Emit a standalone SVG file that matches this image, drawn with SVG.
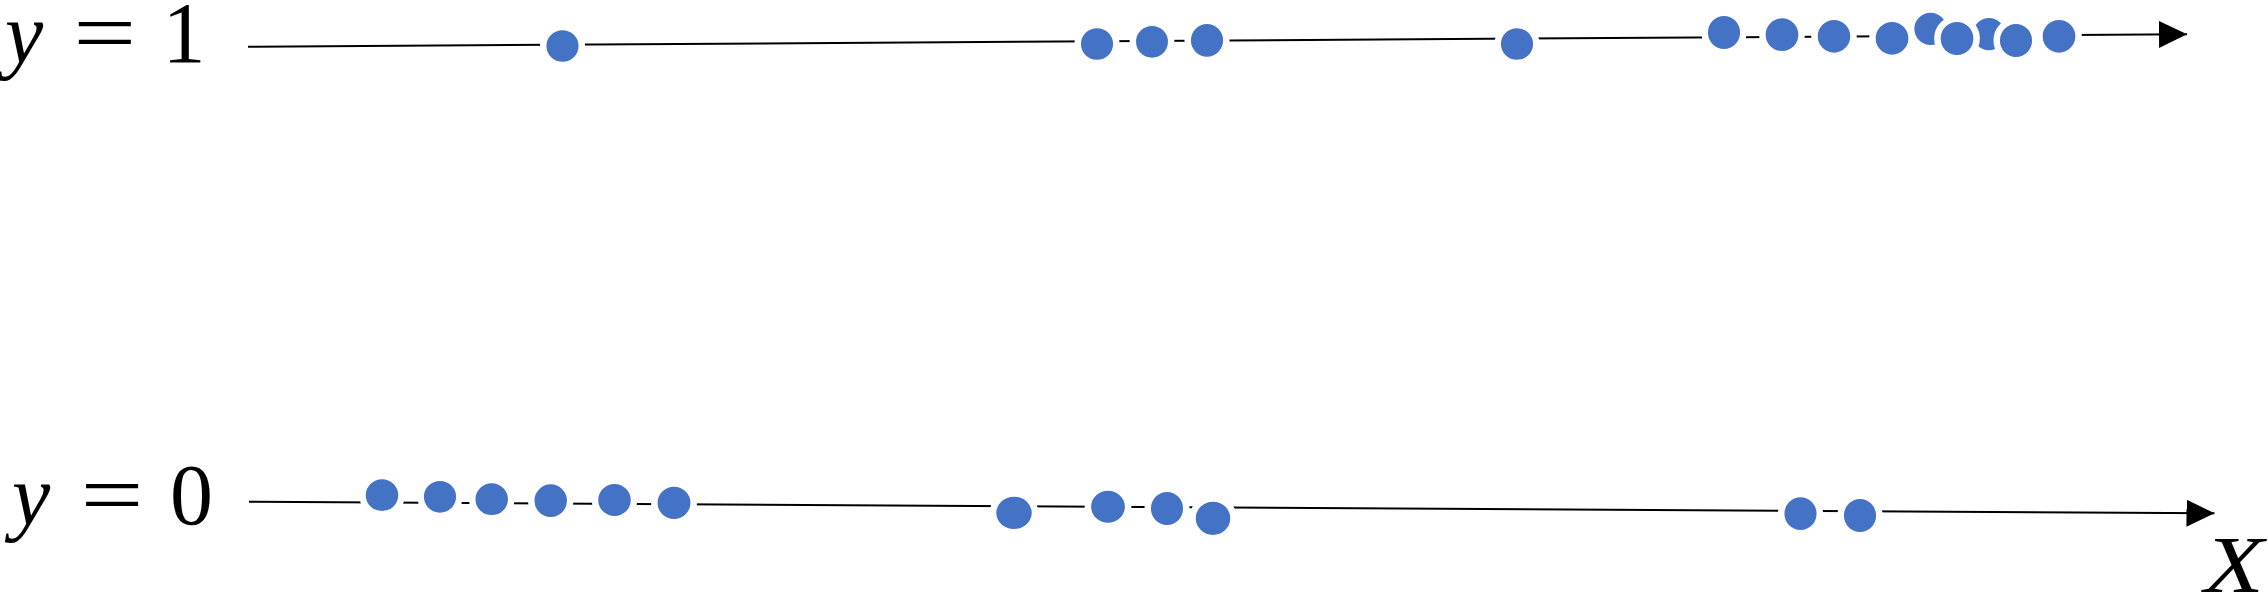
<svg xmlns="http://www.w3.org/2000/svg" width="2268" height="595" viewBox="0 0 2268 595">
  <defs>
    <style>
      .axis { stroke: #000; stroke-width: 2; fill: none; }
      .pt { fill: #4472C4; stroke: #fff; stroke-width: 6.5; }
      .lbl { font-family: "Liberation Serif", "Times New Roman", serif; font-size: 86px; fill: #000; text-anchor: middle; }
      .it { font-style: italic; }
    </style>
    <marker id="arrow" markerUnits="userSpaceOnUse" markerWidth="28" markerHeight="27" refX="28" refY="13.5" orient="auto">
      <path d="M0,0 L28,13.5 L0,27 Z" fill="#000"/>
    </marker>
  </defs>
  <rect width="2268" height="595" fill="#fff"/>

  <g id="labels">
    <text class="lbl it" x="24" y="62">y</text>
    <text class="lbl" x="104.7" y="62" transform="translate(104.7 0) scale(1.3 1) translate(-104.7 0)">=</text>
    <text class="lbl" x="184" y="62">1</text>
    <text class="lbl it" x="31" y="524">y</text>
    <text class="lbl" x="112" y="524" transform="translate(112 0) scale(1.3 1) translate(-112 0)">=</text>
    <text class="lbl" x="191.5" y="524">0</text>
    <text class="lbl it" x="2234" y="592" font-size="80" transform="translate(2234 0) scale(1.22 1) translate(-2234 0)" style="font-size:80px">X</text>
  </g>

  <g id="connectors">
    <line id="axis-y1" class="axis" x1="248" y1="46.7" x2="2187" y2="34.3" marker-end="url(#arrow)"/>
    <line id="axis-y0" class="axis" x1="249" y1="501.7" x2="2214.5" y2="513.3" marker-end="url(#arrow)"/>
  </g>

  <g id="points-y1">
    <g id="t1"><ellipse class="pt" cx="562.5" cy="46" rx="19.3" ry="19.1"/></g>
    <g id="t2"><ellipse class="pt" cx="1097" cy="44" rx="19.3" ry="19.1"/></g>
    <g id="t3"><ellipse class="pt" cx="1152" cy="41.8" rx="19.2" ry="19.1"/></g>
    <g id="t4"><ellipse class="pt" cx="1207" cy="40.3" rx="19.3" ry="19.6"/></g>
    <g id="t5"><ellipse class="pt" cx="1517" cy="44" rx="19.3" ry="19.1"/></g>
    <g id="t6"><ellipse class="pt" cx="1724" cy="32.5" rx="19.3" ry="19.7"/></g>
    <g id="t7"><ellipse class="pt" cx="1782" cy="34.7" rx="19.6" ry="19.6"/></g>
    <g id="t8"><ellipse class="pt" cx="1834" cy="36.3" rx="19.5" ry="19.6"/></g>
    <g id="t9"><ellipse class="pt" cx="1892" cy="38.3" rx="19.6" ry="19.6"/></g>
    <g id="t10"><ellipse class="pt" cx="1930.5" cy="28.8" rx="19.4" ry="19.4"/></g>
    <g id="t11"><ellipse class="pt" cx="1989" cy="34.2" rx="19.4" ry="19.4"/></g>
    <g id="t12"><ellipse class="pt" cx="1957" cy="38.5" rx="19.6" ry="19.7"/></g>
    <g id="t13"><ellipse class="pt" cx="2016" cy="40.5" rx="19.3" ry="19.7"/></g>
    <g id="t14"><ellipse class="pt" cx="2059" cy="36.3" rx="19.6" ry="19.6"/></g>
  </g>

  <g id="points-y0">
    <g id="b1"><ellipse class="pt" cx="382" cy="495.2" rx="19.5" ry="19.1"/></g>
    <g id="b2"><ellipse class="pt" cx="440" cy="496.8" rx="19.3" ry="19.1"/></g>
    <g id="b3"><ellipse class="pt" cx="491.7" cy="499.2" rx="19.5" ry="19.1"/></g>
    <g id="b4"><ellipse class="pt" cx="550.7" cy="500.7" rx="19.5" ry="19.6"/></g>
    <g id="b5"><ellipse class="pt" cx="614.5" cy="500" rx="19.5" ry="19.3"/></g>
    <g id="b6"><ellipse class="pt" cx="674" cy="502.8" rx="19.7" ry="19.4"/></g>
    <g id="b7"><ellipse class="pt" cx="1014" cy="512.8" rx="21" ry="19.4"/></g>
    <g id="b8"><ellipse class="pt" cx="1108" cy="506.7" rx="20.1" ry="19.3"/></g>
    <g id="b9"><ellipse class="pt" cx="1167" cy="508.5" rx="19.3" ry="19.7"/></g>
    <g id="b10"><ellipse class="pt" cx="1213" cy="518.3" rx="20.5" ry="19.9"/></g>
    <g id="b11"><ellipse class="pt" cx="1800.5" cy="513.7" rx="19.3" ry="19.6"/></g>
    <g id="b12"><ellipse class="pt" cx="1860" cy="515.5" rx="19.3" ry="19.7"/></g>
  </g>
</svg>
